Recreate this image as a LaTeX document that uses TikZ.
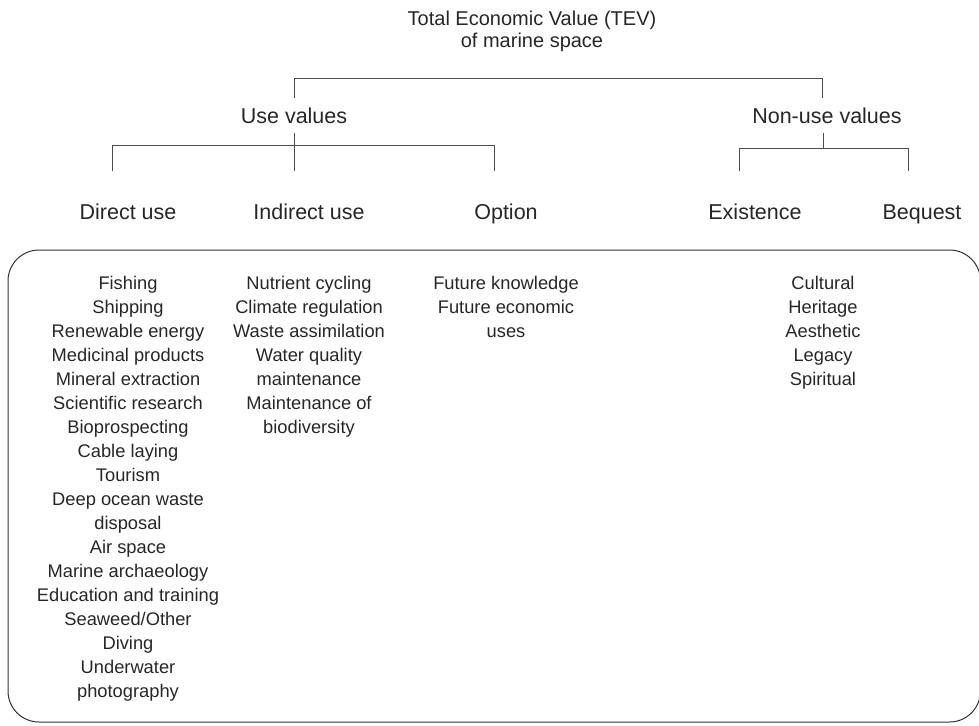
\documentclass[tikz,border=0pt]{standalone}
\usepackage{fontspec}
\setmainfont{Liberation Sans}
\begin{document}
\begin{tikzpicture}[x=1pt,y=-1pt,
  ttl/.style={font=\fontsize{20}{22}\selectfont, align=center, inner sep=0pt, text=black!85},
  lbl/.style={font=\fontsize{21.5}{25}\selectfont, inner sep=0pt, text height=15.4pt, text depth=0pt, text=black!85},
  lst/.style={font=\fontsize{18.3}{24}\selectfont, align=center, anchor=north, inner sep=0pt, text=black!85},
  ln/.style={draw=black!70, line width=1pt},
  boxln/.style={draw=black!80, line width=1pt, rounded corners=31pt}]
\useasboundingbox (0,0) rectangle (979,725);
% title
\node[ttl] (tev) at (532,31) {Total Economic Value (TEV)\\of marine space};
% level 2
\node[lbl] (use) at (294,116) {Use values};
\node[lbl] (nonuse) at (827,116) {Non-use values};
% level 3
\node[lbl] (direct) at (128,212) {Direct use};
\node[lbl] (indirect) at (309,212) {Indirect use};
\node[lbl] (option) at (506,212) {Option};
\node[lbl] (exist) at (755,212) {Existence};
\node[lbl] (bequest) at (922,212) {Bequest};
% bracket coordinates
\coordinate (tL) at (294,78);
\coordinate (tR) at (822,78);
\coordinate (tLb) at (294,98);
\coordinate (tRb) at (822,98);
\coordinate (uTop) at (294,133);
\coordinate (uL) at (112,145);
\coordinate (uR) at (494,145);
\coordinate (uLb) at (112,171);
\coordinate (uRb) at (494,171);
\coordinate (uMb) at (294,171);
\coordinate (nTop) at (823,133);
\coordinate (nBar) at (823,148);
\coordinate (nL) at (739,148);
\coordinate (nR) at (908,148);
\coordinate (nLb) at (739,171);
\coordinate (nRb) at (908,171);
% connectors
\draw[ln] (tLb) -- (tL) -- (tR) -- (tRb);
\draw[ln] (uLb) -- (uL) -- (uR) -- (uRb);
\draw[ln] (uTop) -- (uMb);
\draw[ln] (nLb) -- (nL) -- (nR) -- (nRb);
\draw[ln] (nTop) -- (nBar);
% rounded box
\draw[boxln] (8,250) rectangle (980.5,722);
% lists
\node[lst] (dlist) at (128,276) {Fishing\\Shipping\\Renewable energy\\Medicinal products\\Mineral extraction\\Scientific research\\Bioprospecting\\Cable laying\\Tourism\\Deep ocean waste\\disposal\\Air space\\Marine archaeology\\Education and training\\Seaweed/Other\\Diving\\Underwater\\photography};
\node[lst] (ilist) at (309,276) {Nutrient cycling\\Climate regulation\\Waste assimilation\\Water quality\\maintenance\\Maintenance of\\biodiversity};
\node[lst] (olist) at (506,276) {Future knowledge\\Future economic\\uses};
\node[lst] (elist) at (823,276) {Cultural\\Heritage\\Aesthetic\\Legacy\\Spiritual};
\end{tikzpicture}
\end{document}
